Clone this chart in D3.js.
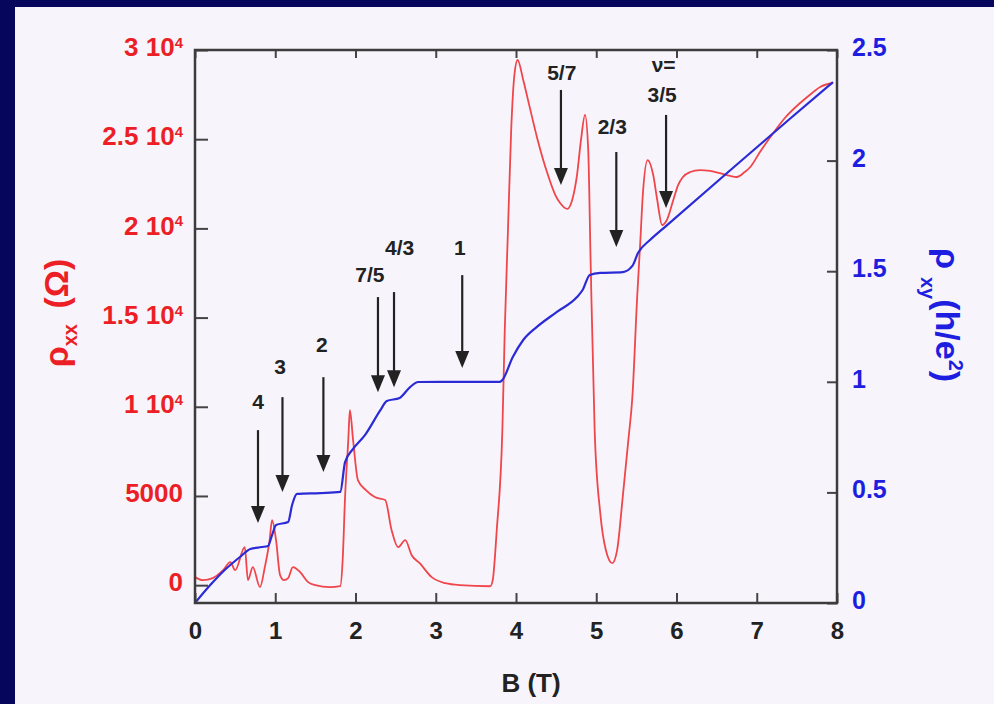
<!DOCTYPE html>
<html>
<head>
<meta charset="utf-8">
<script src="https://cdnjs.cloudflare.com/ajax/libs/d3/7.8.5/d3.min.js"></script>
<style>
html, body { margin: 0; padding: 0; background: #f7f5fb; overflow: hidden; }
svg { display: block; }
svg text { font-family: "Liberation Sans", Arial, sans-serif; font-weight: bold; }
</style>
</head>
<body>
<svg id="chart" width="994" height="704"></svg>
<script>

// rho_xx trace : B (T) and resistance (ohm)
var bXX = [0, 0.10, 0.22, 0.35, 0.44, 0.50, 0.62, 0.66, 0.72, 0.81, 0.87, 0.93, 0.96, 1.01, 1.06, 1.11,
    1.16, 1.22, 1.31, 1.41, 1.50, 1.68, 1.81, 1.84, 1.87, 1.91, 1.93, 1.97, 2.03, 2.13, 2.24, 2.37,
    2.45, 2.53, 2.62, 2.70, 2.80, 2.95, 3.12, 3.30, 3.68, 3.71, 3.76, 3.83, 3.86, 3.90, 3.94, 3.98,
    4.02, 4.09, 4.17, 4.27, 4.39, 4.49, 4.55, 4.64, 4.70, 4.76, 4.81, 4.86, 4.90, 4.93, 4.98, 5.05,
    5.12, 5.20, 5.26, 5.33, 5.40, 5.45, 5.51, 5.55, 5.58, 5.64, 5.71, 5.76, 5.82, 5.88, 5.96, 6.02,
    6.08, 6.17, 6.29, 6.42, 6.54, 6.67, 6.75, 6.85, 6.92, 7.04, 7.17, 7.35, 7.54, 7.66, 7.79, 7.95];
var rhoXX = [450, 280, 390, 840, 1290, 840, 2130, 280, 1010, -110, 1010, 2520, 3650, 2520, 560, 280,
    390, 1010, 730, 170, 0, -110, -60, 1400, 4940, 8130, 9810, 8130, 5890, 5330, 4940, 4770,
    3080, 2130, 2520, 1680, 1230, 450, 110, 0, -60, 280, 3080, 8690, 14300, 19910, 25520, 28600,
    29440, 28320, 26810, 24960, 23100, 21870, 21420, 21090, 21590, 22990, 24960, 26360, 24400, 18110, 8690, 4040,
    1960, 1230, 1960, 4940, 8130, 10540, 16150, 19350, 21870, 23830, 22990, 21590, 20190, 20470, 21590, 22430,
    22880, 23160, 23270, 23220, 23100, 22940, 22880, 23160, 23440, 24280, 25120, 26190, 27030, 27480, 27930, 28150];

// rho_xy trace : B (T) and h/e^2
var bXY = [0, 0.19, 0.37, 0.56, 0.69, 0.83, 0.91, 0.96, 1.01, 1.16, 1.21, 1.27, 1.56, 1.81, 1.87, 1.96,
    2.12, 2.31, 2.39, 2.55, 2.68, 2.78, 3.05, 3.80, 3.83, 3.96, 4.09, 4.26, 4.51, 4.76, 4.83, 4.92,
    5.05, 5.33, 5.45, 5.52, 5.67, 5.84, 6.63, 7.41, 7.95];
var rhoXY = [0, 0.081, 0.149, 0.208, 0.244, 0.253, 0.258, 0.307, 0.353, 0.366, 0.443, 0.493, 0.497, 0.502, 0.637, 0.692,
    0.760, 0.872, 0.913, 0.927, 0.976, 0.999, 1.0, 1.0, 1.008, 1.112, 1.189, 1.248, 1.316, 1.383, 1.415, 1.483,
    1.492, 1.496, 1.524, 1.582, 1.641, 1.695, 1.944, 2.188, 2.355];

var xTicks = [0, 1, 2, 3, 4, 5, 6, 7, 8];
var leftTicks = [0, 5000, 10000, 15000, 20000, 25000, 30000];
var rightTicks = [0, 0.5, 1, 1.5, 2, 2.5];

// filling factor arrows (B, top and tip in ohm) and their labels
var arrowLabels = ["4", "3", "2", "7/5", "4/3", "1", "5/7", "2/3", "3/5"];
var arrowB = [0.785, 1.09, 1.60, 2.28, 2.48, 3.33, 4.56, 5.25, 5.87];
var arrowTop = [8690, 10540, 11660, 16150, 16430, 17380, 27760, 24280, 26360];
var arrowTip = [3480, 5220, 6340, 10820, 11100, 12170, 22430, 18950, 21140];
var labelB = [0.785, 1.06, 1.58, 2.18, 2.55, 3.30, 4.57, 5.20, 5.82];
var labelRho = [10260, 12230, 13460, 17380, 18900, 18900, 28710, 25680, 27480];

var width = 994, height = 704;
var plot = {left: 195, right: 837, top: 50, bottom: 603};
var red = "#ec1f26", blue = "#1e1ee0", ink = "#222";

var svg = d3.select("#chart");

// slide background and dark border
svg.append("rect").attr("width", width).attr("height", height).attr("fill", "#f7f5fb");
svg.append("rect").attr("width", width).attr("height", 7).attr("fill", "#06065c");
svg.append("rect").attr("width", 15).attr("height", height).attr("fill", "#06065c");

var x = d3.scaleLinear().domain([0, 8]).range([plot.left, plot.right]);
var yL = d3.scaleLinear().domain([-1000, 30000]).range([plot.bottom, plot.top]);
var yR = d3.scaleLinear().domain([0, 2.5]).range([plot.bottom, plot.top]);

svg.append("clipPath").attr("id", "clip")
    .append("rect")
    .attr("x", plot.left).attr("y", plot.top - 2)
    .attr("width", plot.right - plot.left).attr("height", plot.bottom - plot.top + 2);

// curves
var lineXX = d3.line().x(function(d){ return x(d[0]) }).y(function(d){ return yL(d[1]) }).curve(d3.curveMonotoneX);
var lineXY = d3.line().x(function(d){ return x(d[0]) }).y(function(d){ return yR(d[1]) }).curve(d3.curveMonotoneX);

svg.append("path")
    .datum(d3.zip(bXX, rhoXX))
    .attr("clip-path", "url(#clip)")
    .attr("fill", "none").attr("stroke", "#f0454a").attr("stroke-width", 1.8)
    .attr("d", lineXX);

svg.append("path")
    .datum(d3.zip(bXY, rhoXY))
    .attr("clip-path", "url(#clip)")
    .attr("fill", "none").attr("stroke", "#2b2bd6").attr("stroke-width", 2.2)
    .attr("d", lineXY);

// axes, ticks pointing inwards
function noDomain(g){ g.select(".domain").remove() }

var gBottom = svg.append("g")
    .attr("transform", "translate(0," + plot.bottom + ")")
    .call(d3.axisBottom(x).tickValues(xTicks).tickSizeInner(-10).tickSizeOuter(0).tickPadding(19))
    .call(noDomain);
gBottom.selectAll("text").attr("fill", ink).style("font-size", "24px");

svg.append("g")
    .attr("transform", "translate(0," + plot.top + ")")
    .call(d3.axisTop(x).tickValues(xTicks).tickSizeInner(-8).tickSizeOuter(0).tickFormat(""))
    .call(noDomain);

var gLeft = svg.append("g")
    .attr("transform", "translate(" + plot.left + ",0)")
    .call(d3.axisLeft(yL).tickValues(leftTicks).tickSizeInner(-13).tickSizeOuter(0).tickPadding(12)
        .tickFormat(d3.format("d")))
    .call(noDomain);
gLeft.selectAll("text")
    .attr("fill", red).attr("dy", "0.22em").style("font-size", "26px")
    .each(function(d){
        var t = d3.select(this);
        if (d < 10000) return;
        t.text(null);
        t.append("tspan").text(d3.format("~g")(d / 10000) + " 10");
        t.append("tspan").attr("dy", "-0.55em").style("font-size", "15px").text("4");
    });

var gRight = svg.append("g")
    .attr("transform", "translate(" + plot.right + ",0)")
    .call(d3.axisRight(yR).tickValues(rightTicks).tickSizeInner(-10).tickSizeOuter(0).tickPadding(15)
        .tickFormat(d3.format("~g")))
    .call(noDomain);
gRight.selectAll("text").attr("fill", blue).attr("dy", "0.22em").style("font-size", "25px");

svg.selectAll(".tick line").attr("stroke", "#444").attr("stroke-width", 2);

// plot frame
svg.append("rect")
    .attr("x", plot.left).attr("y", plot.top)
    .attr("width", plot.right - plot.left).attr("height", plot.bottom - plot.top)
    .attr("fill", "none").attr("stroke", "#3c3c3c").attr("stroke-width", 2.5);

// arrows
var arrows = svg.append("g");
arrowB.forEach(function(b, i){
    var ax = x(b), top = yL(arrowTop[i]), tip = yL(arrowTip[i]);
    arrows.append("line")
        .attr("x1", ax).attr("x2", ax).attr("y1", top).attr("y2", tip - 12)
        .attr("stroke", ink).attr("stroke-width", 2.2);
    arrows.append("path")
        .attr("d", "M" + (ax - 7) + "," + (tip - 17) + "L" + (ax + 7) + "," + (tip - 17) + "L" + ax + "," + tip + "Z")
        .attr("fill", ink);
    arrows.append("text")
        .attr("x", x(labelB[i])).attr("y", yL(labelRho[i]))
        .attr("dy", "0.35em").attr("text-anchor", "middle")
        .attr("fill", ink).style("font-size", "21px")
        .text(arrowLabels[i]);
});
arrows.append("text")
    .attr("x", x(5.84)).attr("y", yL(29160))
    .attr("dy", "0.35em").attr("text-anchor", "middle")
    .attr("fill", ink).style("font-size", "21px")
    .text("ν=");

// axis titles
svg.append("text")
    .attr("x", 531).attr("y", 692)
    .attr("text-anchor", "middle").attr("fill", ink)
    .style("font-size", "26px")
    .text("B (T)");

var tl = svg.append("text")
    .attr("transform", "translate(68,313) rotate(-90)")
    .attr("text-anchor", "middle").attr("fill", red)
    .style("font-size", "34px");
tl.append("tspan").text("ρ");
tl.append("tspan").attr("dy", 9).style("font-size", "20px").text("xx");
tl.append("tspan").attr("dy", -9).attr("dx", 6).text(" (Ω)");

var tr = svg.append("text")
    .attr("transform", "translate(936,315) rotate(90)")
    .attr("text-anchor", "middle").attr("fill", blue)
    .style("font-size", "34px");
tr.append("tspan").text("ρ");
tr.append("tspan").attr("dx", 8).attr("dy", 15).style("font-size", "20px").text("xy");
tr.append("tspan").attr("dy", -15).text("(h/e");
tr.append("tspan").attr("dy", -13).style("font-size", "20px").text("2");
tr.append("tspan").attr("dy", 13).text(")");

</script>
</body>
</html>
